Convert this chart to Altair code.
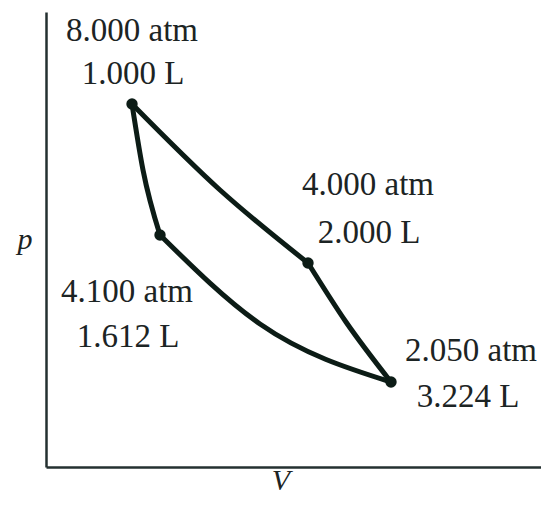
import altair as alt
import pandas as pd

# Schematic p-V cycle (positions in arbitrary plot units, not to scale)
seg_AB_V = [0.86, 1.74, 2.62]
seg_AB_p = [7.26, 5.54, 4.08]
seg_BC_V = [2.62, 3.00, 3.45]
seg_BC_p = [4.08, 2.90, 1.70]
seg_DC_V = [1.14, 2.14, 3.45]
seg_DC_p = [4.64, 2.86, 1.70]
seg_AD_V = [0.86, 0.97, 1.14]
seg_AD_p = [7.26, 5.94, 4.64]

point_V = [0.86, 2.62, 3.45, 1.14]
point_p = [7.26, 4.08, 1.70, 4.64]

pressure_text = ["8.000 atm", "4.000 atm", "2.050 atm", "4.100 atm"]
volume_text = ["1.000 L", "2.000 L", "3.224 L", "1.612 L"]
p_label_V = [0.86, 3.22, 4.25, 0.81]
p_label_p = [8.52, 5.44, 2.12, 3.30]
v_label_V = [0.87, 3.23, 4.22, 0.82]
v_label_p = [7.66, 4.48, 1.20, 2.40]

rows = []
for name, vs, ps in [("AB", seg_AB_V, seg_AB_p), ("BC", seg_BC_V, seg_BC_p),
                     ("DC", seg_DC_V, seg_DC_p), ("AD", seg_AD_V, seg_AD_p)]:
    for i, (v, p) in enumerate(zip(vs, ps)):
        rows.append({"seg": name, "i": i, "V": v, "p": p})
curves = pd.DataFrame(rows)
points = pd.DataFrame({"V": point_V, "p": point_p})
plabels = pd.DataFrame({"V": p_label_V, "p": p_label_p, "t": pressure_text})
vlabels = pd.DataFrame({"V": v_label_V, "p": v_label_p, "t": volume_text})
titles = pd.DataFrame({"V": [-0.21, 2.35], "p": [4.36, -0.46], "t": ["p", "V"]})

xs = alt.Scale(domain=[0, 4.95], nice=False, zero=False)
ys = alt.Scale(domain=[0, 9.1], nice=False, zero=False)
ax = alt.Axis(title=None, labels=False, ticks=False, grid=False,
              domainColor="#243030", domainWidth=2.5)

INK = "#0c1c16"
TXT = "#1c2424"
FONT = "Liberation Serif"

lines = alt.Chart(curves).mark_line(
    color=INK, strokeWidth=5, interpolate="monotone",
    strokeCap="round", strokeJoin="round"
).encode(
    x=alt.X("V:Q", scale=xs, axis=ax),
    y=alt.Y("p:Q", scale=ys, axis=ax),
    detail="seg:N",
    order="i:Q",
)

dots = alt.Chart(points).mark_circle(color=INK, opacity=1, size=130).encode(
    x=alt.X("V:Q", scale=xs), y=alt.Y("p:Q", scale=ys)
)

def txt(df, size=33, style="normal"):
    return alt.Chart(df).mark_text(
        font=FONT, fontSize=size, fontStyle=style, color=TXT,
        align="center", baseline="alphabetic"
    ).encode(x=alt.X("V:Q", scale=xs), y=alt.Y("p:Q", scale=ys), text="t:N")

chart = alt.layer(
    lines, dots, txt(plabels), txt(vlabels), txt(titles, size=30, style="italic")
).properties(
    width=495, height=455,
    padding={"left": 38, "top": 4, "right": 0, "bottom": 31},
    autosize=alt.AutoSizeParams(type="none"),
    background="white",
).configure_view(stroke=None)

chart.save("out.html", embed_options={"renderer": "svg", "actions": False})
